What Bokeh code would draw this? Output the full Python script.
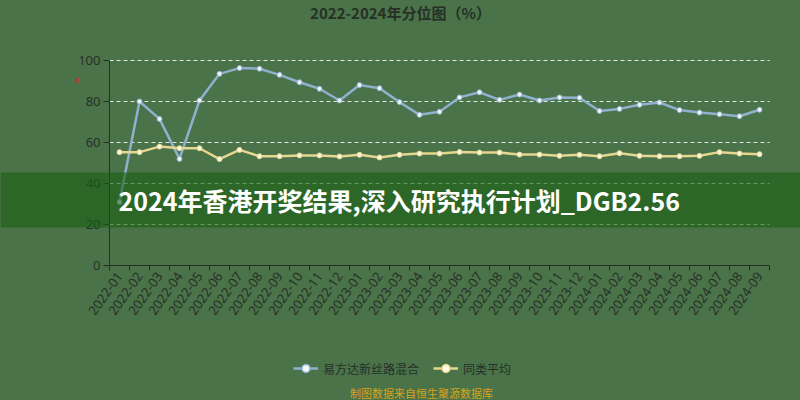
from bokeh.plotting import figure
from bokeh.models import (FixedTicker, Label, Legend, LegendItem, LinearAxis,
                          BoxAnnotation, Range1d, ColumnDataSource,
                          GlobalInlineStyleSheet)
from bokeh.embed import file_html
from bokeh.resources import INLINE

months = ["2022-01", "2022-02", "2022-03", "2022-04", "2022-05", "2022-06",
          "2022-07", "2022-08", "2022-09", "2022-10", "2022-11", "2022-12",
          "2023-01", "2023-02", "2023-03", "2023-04", "2023-05", "2023-06",
          "2023-07", "2023-08", "2023-09", "2023-10", "2023-11", "2023-12",
          "2024-01", "2024-02", "2024-03", "2024-04", "2024-05", "2024-06",
          "2024-07", "2024-08", "2024-09"]
fund = [31, 80, 71.5, 52, 80.5, 93.5, 96.3, 96, 93, 89.4, 86.2, 80.5,
        88, 86.5, 79.7, 73.5, 75, 82, 84.5, 80.8, 83.4, 80.5, 82, 81.8,
        75.4, 76.4, 78.4, 79.5, 75.8, 74.6, 73.8, 72.8, 76]
peer = [55.3, 55.3, 58, 57.2, 57.2, 51.9, 56.4, 53.3, 53.3, 53.7, 53.7, 53.2,
        54, 52.7, 54, 54.6, 54.6, 55.4, 55.1, 55.1, 54.1, 54.1, 53.5, 54,
        53.3, 54.8, 53.5, 53.3, 53.3, 53.5, 55.3, 54.6, 54.3]
y_ticks = [0, 20, 40, 60, 80, 100]
series_names = ["易方达新丝路混合", "同类平均"]
title_text = "2022-2024年分位图（%）"
banner_text = "2024年香港开奖结果,深入研究执行计划_DGB2.56"
source_text = "制图数据来自恒生聚源数据库"

BG = "#4b7349"
DARK = "#263026"
BLUE = "#8fb1cf"
YEL = "#e6d68e"
CJK = "Noto Sans CJK SC"

n = len(months)
idx = list(range(n))
src = ColumnDataSource(dict(x=idx, fund=fund, peer=peer))

# the frame covers the whole canvas (20 px per month, 2.05 px per percent);
# the axes are pinned inside it so that nothing outside is clipped
p = figure(width=800, height=400, output_backend="svg", toolbar_location=None,
           x_range=Range1d(-5.95, 34.05), y_range=Range1d(-65.85, 129.27),
           x_axis_type=None, y_axis_type=None, min_border=0)
p.stylesheets = [GlobalInlineStyleSheet(css="body{background:%s;}" % BG)]
p.background_fill_color = BG
p.border_fill_color = BG
p.outline_line_color = None
p.xgrid.visible = False
p.ygrid.visible = False

# dashed horizontal grid at the y ticks
p.segment(x0=[-0.5] * (len(y_ticks) - 1), x1=[n - 0.5] * (len(y_ticks) - 1),
          y0=y_ticks[1:], y1=y_ticks[1:], line_color="#dfe8de",
          line_dash="4 3", line_width=1)

yaxis = LinearAxis(fixed_location=-0.5, bounds=(0, 100),
                   ticker=FixedTicker(ticks=y_ticks))
yaxis.axis_line_color = DARK
yaxis.major_tick_line_color = DARK
yaxis.major_tick_out = 6
yaxis.major_tick_in = 0
yaxis.minor_tick_line_color = None
yaxis.major_label_text_color = DARK
yaxis.major_label_text_font = "Noto Sans"
yaxis.major_label_text_font_size = "13px"
yaxis.major_label_standoff = 3
p.add_layout(yaxis, "left")

xaxis = LinearAxis(fixed_location=0, bounds=(-0.5, n - 0.5),
                   ticker=FixedTicker(ticks=idx, minor_ticks=[i - 0.5 for i in range(n + 1)]))
xaxis.major_label_overrides = {i: m for i, m in enumerate(months)}
xaxis.major_label_orientation = 0.96
xaxis.axis_line_color = DARK
xaxis.major_tick_out = 0
xaxis.major_tick_in = 0
xaxis.minor_tick_out = 5
xaxis.minor_tick_in = 0
xaxis.minor_tick_line_color = DARK
xaxis.major_label_text_color = DARK
xaxis.major_label_text_font = "Noto Sans"
xaxis.major_label_text_font_size = "13px"
xaxis.major_label_standoff = 3
p.add_layout(xaxis, "below")

l1 = p.line("x", "fund", source=src, line_color=BLUE, line_width=2.5)
s1 = p.scatter("x", "fund", source=src, size=5, fill_color="#eef4f8", line_color=BLUE, line_width=1)
l2 = p.line("x", "peer", source=src, line_color=YEL, line_width=2.5)
s2 = p.scatter("x", "peer", source=src, size=5, fill_color="#fbf6dc", line_color=YEL, line_width=1)

# legend-only swatch markers: one row without a position, so nothing is plotted
swatch = ColumnDataSource(dict(x=[float("nan")], y=[float("nan")]))
m1 = p.scatter("x", "y", source=swatch, size=12, fill_color="#f4f8fb",
               line_color=BLUE, line_width=1.5)
m2 = p.scatter("x", "y", source=swatch, size=12, fill_color="#fffbe6",
               line_color=YEL, line_width=1.5)

legend = Legend(items=[LegendItem(label=series_names[0], renderers=[l1, m1]),
                       LegendItem(label=series_names[1], renderers=[l2, m2])],
                location=(293, 22), orientation="horizontal",
                background_fill_alpha=0, border_line_color=None,
                label_text_font=CJK, label_text_font_size="12px",
                label_text_color=DARK, glyph_width=25, glyph_height=20,
                label_standoff=5, spacing=14, padding=0, margin=0)
p.add_layout(legend)

p.add_layout(BoxAnnotation(top=45.4, bottom=18.5, fill_color="#175f12",
                           fill_alpha=0.6, line_color=None, level="overlay"))
p.add_layout(Label(x=-0.05, y=31.95, text=banner_text, text_color="white",
                   text_font=CJK, text_font_style="bold", text_font_size="25px",
                   text_baseline="middle", level="overlay"))
p.add_layout(Label(x=14.05, y=123.4, text=title_text, text_color=DARK,
                   text_font=CJK, text_font_style="bold", text_font_size="15px",
                   text_align="center", text_baseline="middle"))
p.add_layout(Label(x=15.1, y=-62.4, text=source_text, text_color="#d9a21c",
                   text_font=CJK, text_font_size="11px",
                   text_align="center", text_baseline="middle"))
p.add_layout(Label(x=-2.1, y=89.8, text="✗", text_color="#c83030",
                   text_font="DejaVu Sans", text_font_size="9px",
                   text_align="center", text_baseline="middle"))

open("out.html", "w").write(file_html(p, INLINE))
